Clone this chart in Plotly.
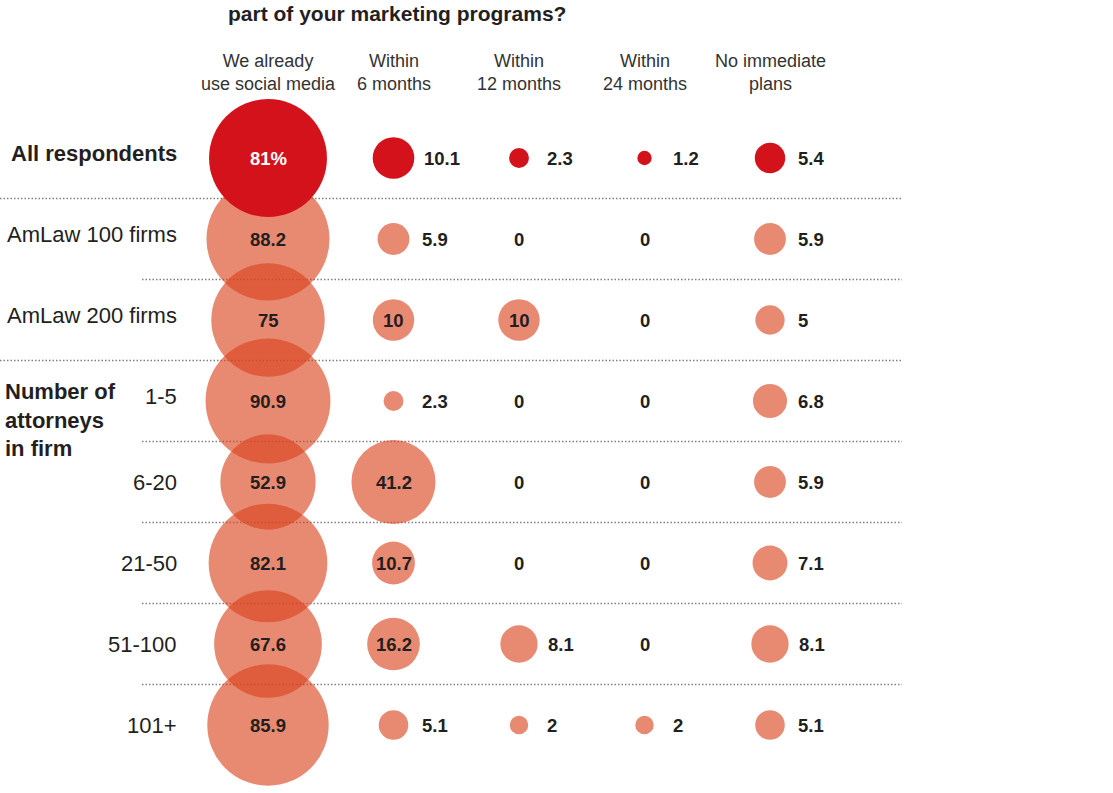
import numpy as np
import plotly.graph_objects as go

# ---------------- data ----------------
columns = ["We already<br>use social media", "Within<br>6 months", "Within<br>12 months",
           "Within<br>24 months", "No immediate<br>plans"]
rows = ["All respondents", "AmLaw 100 firms", "AmLaw 200 firms", "1-5", "6-20", "21-50", "51-100", "101+"]
already_use = [81, 88.2, 75, 90.9, 52.9, 82.1, 67.6, 85.9]
within_6 = [10.1, 5.9, 10, 2.3, 41.2, 10.7, 16.2, 5.1]
within_12 = [2.3, 0, 10, 0, 0, 0, 8.1, 2]
within_24 = [1.2, 0, 0, 0, 0, 0, 0, 2]
no_plans = [5.4, 5.9, 5, 6.8, 5.9, 7.1, 8.1, 5.1]
title_line = "part of your marketing programs?"
group_label = "Number of<br>attorneys<br>in firm"

series = [already_use, within_6, within_12, within_24, no_plans]

# ---------------- style ----------------
K = 13.1                      # px of diameter per sqrt(percent)
RED = "#d4121c"
SALMON = "rgb(218,66,28)"
DARK = "#231f20"
VAL_FONT = "Liberation Sans, Arial, Helvetica, sans-serif"
HDR_FONT = "Liberation Sans Narrow, Arial Narrow, Liberation Sans, Arial, sans-serif"

W, H = 1113, 793
col_px, col_step = 268, 125.5
row_px, row_step = 158, 81
x0 = -col_px / col_step
x1 = x0 + W / col_step
y0 = -row_px / row_step
y1 = y0 + H / row_step

fig = go.Figure()

# salmon bubbles (all rows except the first)
for ci, vals in enumerate(series):
    xs, ys, ss = [], [], []
    for ri, v in enumerate(vals):
        if ri == 0 or v <= 0:
            continue
        xs.append(ci); ys.append(ri); ss.append(K * np.sqrt(v))
    fig.add_trace(go.Scatter(x=xs, y=ys, mode="markers",
                             marker=dict(size=ss, sizemode="diameter", color=SALMON,
                                         opacity=0.62, line=dict(width=0)),
                             hoverinfo="skip", showlegend=False))

# red bubbles (all respondents), drawn on top
xs, ys, ss = [], [], []
for ci, vals in enumerate(series):
    v = vals[0]
    if v > 0:
        xs.append(ci); ys.append(0); ss.append(K * np.sqrt(v))
fig.add_trace(go.Scatter(x=xs, y=ys, mode="markers",
                         marker=dict(size=ss, sizemode="diameter", color=RED, opacity=1,
                                     line=dict(width=0)),
                         hoverinfo="skip", showlegend=False))

annotations = []
# value labels
for ci, vals in enumerate(series):
    for ri, v in enumerate(vals):
        txt = f"{v:g}"
        if ci == 0:
            if ri == 0:
                txt += "%"
            annotations.append(dict(x=ci, y=ri, text=f"<b>{txt}</b>", showarrow=False,
                                    font=dict(family=VAL_FONT, size=18.5,
                                              color="white" if ri == 0 else DARK),
                                    xanchor="center", yanchor="middle"))
        elif v == 0 or (ri > 0 and v >= 10):
            annotations.append(dict(x=ci, y=ri, text=f"<b>{txt}</b>", showarrow=False,
                                    font=dict(family=VAL_FONT, size=18.5, color=DARK),
                                    xanchor="center", yanchor="middle"))
        else:
            r = K * np.sqrt(v) / 2
            annotations.append(dict(x=ci, y=ri, text=f"<b>{txt}</b>", showarrow=False,
                                    font=dict(family=VAL_FONT, size=18.5, color=DARK),
                                    xanchor="left", yanchor="middle",
                                    xshift=max(r + 8, 26)))

# column headers
for ci, c in enumerate(columns):
    annotations.append(dict(x=ci, y=-1.06, text=c, showarrow=False,
                            font=dict(family=HDR_FONT, size=18, color="#333333"),
                            xanchor="center", yanchor="middle", align="center"))

# row labels
RL_RIGHT = 179 / W
for ri, r in enumerate(rows):
    label = f"<b>{r}</b>" if ri == 0 else r
    dy = -0.06 if ri in (0, 1, 2, 3) else 0
    annotations.append(dict(x=RL_RIGHT, xref="paper", y=ri + dy, text=label,
                            showarrow=False, xanchor="right", yanchor="middle",
                            font=dict(family=VAL_FONT, size=22, color=DARK)))

annotations.append(dict(x=3 / W, xref="paper", y=3.24, text=f"<b>{group_label}</b>",
                        showarrow=False, xanchor="left", yanchor="middle", align="left",
                        font=dict(family=VAL_FONT, size=22, color=DARK)))

# title line (kept at the very top, as in the reference)
annotations.append(dict(x=226 / W, xref="paper", y=1, yref="paper",
                        text=f"<b>{title_line}</b>", showarrow=False,
                        xanchor="left", yanchor="top",
                        font=dict(family=VAL_FONT, size=21, color=DARK)))

# dotted separators
shapes = []
line_end = x0 + 902 / col_step
for i in range(len(rows) - 1):
    start = x0 if i in (0, 2) else x0 + 142 / col_step
    shapes.append(dict(type="line", x0=start, x1=line_end, y0=i + 0.5, y1=i + 0.5,
                       xref="x", yref="y",
                       line=dict(color="#808080", width=1.5, dash="1.5px,2px"), layer="below"))

fig.update_layout(
    width=W, height=H,
    margin=dict(l=0, r=0, t=0, b=0),
    paper_bgcolor="white", plot_bgcolor="white",
    xaxis=dict(range=[x0, x1], visible=False, fixedrange=True),
    yaxis=dict(range=[y1, y0], visible=False, fixedrange=True),
    annotations=annotations, shapes=shapes,
    showlegend=False,
)

fig.write_html("out.html")
